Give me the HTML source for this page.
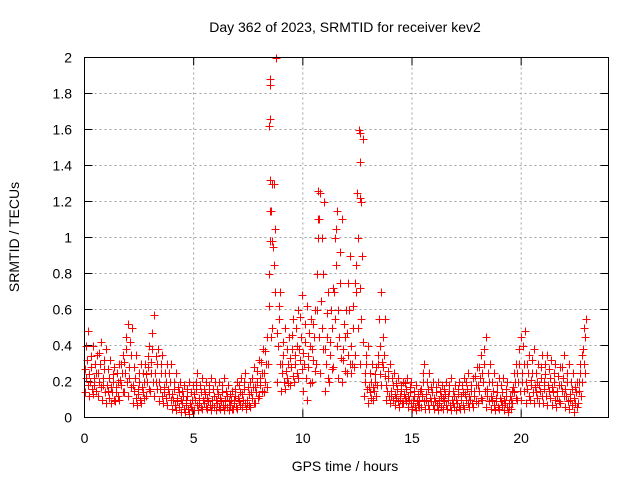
<!DOCTYPE html>
<html><head><meta charset="utf-8"><style>
html,body{margin:0;padding:0;background:#fff;}
svg{display:block;font-family:"Liberation Sans",sans-serif;}
</style></head><body>
<svg id="chart" width="640" height="480" xmlns="http://www.w3.org/2000/svg">
<text x="345" y="32" text-anchor="middle" font-size="14" fill="#000">Day 362 of 2023, SRMTID for receiver kev2</text>
<text x="345" y="471" text-anchor="middle" font-size="14" fill="#000">GPS time / hours</text>
<text x="19" y="237" text-anchor="middle" font-size="14" fill="#000" transform="rotate(-90 19 237)">SRMTID / TECUs</text>
<g id="grid"></g>
<g id="ticks"></g>
<g id="marks"></g>
<rect x="84.5" y="57.5" width="524" height="360" fill="none" stroke="#000" stroke-width="1"/>
</svg>
<script>
const xTicks = [0, 5, 10, 15, 20];
const yTicks = [0, 0.2, 0.4, 0.6, 0.8, 1, 1.2, 1.4, 1.6, 1.8, 2];
const yTickLabels = ["0","0.2","0.4","0.6","0.8","1","1.2","1.4","1.6","1.8","2"];
const binHours = 0.2;
const lo = [0.14,0.12,0.13,0.12,0.1, 0.08,0.08,0.09,0.1,0.14, 0.12,0.08,0.07,0.08,0.12, 0.15,0.12,0.09,0.08,0.07,
 0.05,0.04,0.03,0.03,0.02, 0.04,0.04,0.05,0.05,0.04, 0.04,0.05,0.04,0.04,0.05, 0.05,0.06,0.05,0.06,0.08,
 0.12,0.14,0.3,0.5,0.2, 0.15,0.16,0.18,0.2,0.22, 0.15,0.1,0.2,0.3,0.25, 0.15,0.2,0.28,0.22,0.2,
 0.25,0.25,0.35,0.3,0.12, 0.08,0.1,0.18,0.18,0.1, 0.08,0.07,0.06,0.08,0.06, 0.05,0.04,0.06,0.05,0.05,
 0.05,0.04,0.05,0.05,0.04, 0.04,0.05,0.05,0.06,0.06, 0.08,0.1,0.06,0.05,0.04, 0.05,0.04,0.03,0.08,0.1,
 0.1,0.08,0.1,0.08,0.08, 0.08,0.07,0.07,0.06,0.08, 0.06,0.05,0.03,0.08,0.2];
const q1 = [0.18,0.16,0.15,0.17,0.14, 0.11,0.1,0.12,0.14,0.2, 0.17,0.11,0.1,0.11,0.16, 0.2,0.16,0.12,0.11,0.1,
 0.07,0.06,0.05,0.05,0.04, 0.07,0.06,0.06,0.07,0.06, 0.06,0.07,0.06,0.05,0.06, 0.07,0.08,0.07,0.08,0.11,
 0.15,0.17,0.45,0.7,0.3, 0.2,0.19,0.23,0.25,0.27, 0.22,0.19,0.26,0.45,0.38, 0.22,0.27,0.4,0.33,0.26,
 0.3,0.28,0.5,0.42,0.16, 0.11,0.12,0.24,0.23,0.12, 0.1,0.09,0.08,0.09,0.08, 0.06,0.06,0.09,0.07,0.07,
 0.07,0.06,0.07,0.07,0.06, 0.06,0.07,0.08,0.08,0.09, 0.11,0.15,0.09,0.07,0.06, 0.07,0.06,0.05,0.11,0.15,
 0.15,0.12,0.14,0.11,0.12, 0.12,0.11,0.1,0.09,0.12, 0.09,0.07,0.06,0.12,0.25];
const midA = [0.22,0.2,0.18,0.2,0.18, 0.15,0.14,0.14,0.18,0.25, 0.22,0.15,0.13,0.14,0.2, 0.25,0.2,0.16,0.14,0.13,
 0.1,0.09,0.08,0.07,0.06, 0.1,0.08,0.08,0.09,0.07, 0.08,0.09,0.07,0.07,0.08, 0.09,0.1,0.08,0.11,0.14,
 0.18,0.2,0.62,0.85,0.4, 0.25,0.22,0.28,0.3,0.32, 0.3,0.28,0.32,0.6,0.5, 0.3,0.35,0.55,0.45,0.32,
 0.35,0.3,0.7,0.55,0.2, 0.14,0.15,0.3,0.28,0.15, 0.12,0.11,0.1,0.11,0.1, 0.08,0.07,0.12,0.1,0.09,
 0.09,0.08,0.09,0.1,0.08, 0.08,0.1,0.1,0.1,0.12, 0.15,0.2,0.12,0.1,0.09, 0.09,0.08,0.06,0.14,0.2,
 0.2,0.16,0.18,0.14,0.15, 0.16,0.15,0.14,0.12,0.15, 0.12,0.1,0.08,0.15,0.3];
const q2 = [0.27,0.24,0.22,0.25,0.22, 0.18,0.17,0.17,0.21,0.31, 0.28,0.18,0.16,0.17,0.24, 0.31,0.25,0.2,0.17,0.16,
 0.13,0.11,0.1,0.1,0.08, 0.13,0.11,0.1,0.11,0.1, 0.1,0.11,0.1,0.09,0.1, 0.11,0.13,0.1,0.14,0.17,
 0.22,0.25,0.8,0.95,0.47, 0.3,0.26,0.33,0.35,0.38, 0.36,0.34,0.38,0.8,0.65, 0.38,0.42,0.7,0.6,0.38,
 0.47,0.4,0.85,0.72,0.25, 0.17,0.17,0.35,0.31,0.18, 0.15,0.13,0.12,0.13,0.12, 0.1,0.09,0.16,0.13,0.11,
 0.11,0.1,0.11,0.12,0.1, 0.1,0.12,0.13,0.12,0.15, 0.18,0.25,0.16,0.12,0.11, 0.11,0.1,0.08,0.17,0.25,
 0.25,0.2,0.21,0.17,0.18, 0.2,0.18,0.17,0.15,0.18, 0.16,0.13,0.11,0.2,0.38];
const midB = [0.32,0.28,0.25,0.3,0.27, 0.22,0.2,0.2,0.25,0.38, 0.35,0.22,0.2,0.2,0.28, 0.38,0.3,0.25,0.2,0.2,
 0.16,0.14,0.12,0.12,0.1, 0.16,0.14,0.13,0.14,0.12, 0.13,0.14,0.12,0.1,0.12, 0.14,0.16,0.13,0.17,0.2,
 0.25,0.3,0.98,1.05,0.55, 0.35,0.3,0.38,0.4,0.45, 0.42,0.4,0.45,1.0,0.8, 0.45,0.5,0.85,0.75,0.45,
 0.6,0.5,1.0,0.9,0.3, 0.2,0.2,0.4,0.35,0.22, 0.18,0.16,0.15,0.16,0.14, 0.12,0.1,0.2,0.16,0.14,
 0.14,0.12,0.13,0.15,0.12, 0.13,0.14,0.16,0.15,0.18, 0.22,0.3,0.2,0.15,0.14, 0.14,0.12,0.1,0.2,0.3,
 0.3,0.25,0.25,0.2,0.22, 0.24,0.22,0.2,0.18,0.22, 0.2,0.16,0.14,0.25,0.45];
const q3 = [0.4,0.34,0.3,0.36,0.32, 0.27,0.24,0.25,0.3,0.45, 0.42,0.28,0.25,0.25,0.34, 0.47,0.34,0.3,0.25,0.25,
 0.2,0.17,0.15,0.16,0.14, 0.2,0.18,0.16,0.18,0.16, 0.16,0.18,0.15,0.13,0.16, 0.18,0.2,0.17,0.22,0.26,
 0.31,0.37,1.15,1.3,0.62, 0.42,0.38,0.46,0.5,0.56, 0.52,0.47,0.52,1.1,1.0, 0.58,0.6,1.0,0.92,0.52,
 0.75,0.62,1.25,1.2,0.35, 0.25,0.24,0.55,0.45,0.26, 0.22,0.19,0.18,0.19,0.17, 0.15,0.13,0.25,0.2,0.17,
 0.17,0.15,0.16,0.18,0.15, 0.16,0.18,0.2,0.18,0.23, 0.28,0.38,0.25,0.2,0.18, 0.18,0.16,0.12,0.25,0.38,
 0.4,0.3,0.32,0.25,0.28, 0.3,0.27,0.25,0.23,0.28, 0.25,0.2,0.17,0.3,0.5];
const hi = [0.48,0.4,0.35,0.42,0.38, 0.32,0.28,0.3,0.35,0.52, 0.5,0.35,0.3,0.3,0.4, 0.57,0.38,0.35,0.3,0.3,
 0.25,0.2,0.18,0.2,0.18, 0.25,0.22,0.2,0.22,0.2, 0.2,0.22,0.18,0.15,0.2, 0.22,0.25,0.2,0.28,0.32,
 0.38,0.45,1.3,2.0,0.7, 0.5,0.45,0.55,0.6,0.68, 0.62,0.55,0.6,1.25,1.2, 0.7,0.72,1.15,1.1,0.6,
 0.9,0.75,1.6,1.55,0.4, 0.3,0.28,0.7,0.55,0.3, 0.25,0.22,0.2,0.22,0.2, 0.18,0.15,0.3,0.25,0.2,
 0.2,0.18,0.2,0.22,0.18, 0.2,0.22,0.25,0.22,0.28, 0.35,0.45,0.3,0.25,0.22, 0.22,0.2,0.15,0.3,0.45,
 0.48,0.35,0.38,0.3,0.35, 0.35,0.32,0.3,0.28,0.35, 0.3,0.25,0.2,0.35,0.55];
const spikeHours = [8.5, 8.5, 8.5, 8.45, 8.5, 8.55, 8.6, 10.7, 10.75, 12.6, 12.6, 12.6, 11.5];
const spikeValues = [1.88, 1.85, 1.66, 1.62, 1.32, 1.15, 0.98, 1.26, 1.1, 1.58, 1.42, 1.22, 1.05];

const NS = "http://www.w3.org/2000/svg";
const X0 = 84.5, XW = 524, Y0 = 417.5, YH = 360;
function xs(h){ return X0 + h / 24 * XW; }
function ys(v){ return Y0 - v / 2 * YH; }
function mk(tag, attrs, parent){ const e = document.createElementNS(NS, tag); for (const k in attrs) e.setAttribute(k, attrs[k]); parent.appendChild(e); return e; }

const grid = document.getElementById('grid');
const ticks = document.getElementById('ticks');
yTicks.forEach((v, i) => {
  const y = ys(v);
  if (v > 0 && v < 2) {
    const g = mk('line', {x1: X0, x2: X0 + XW, y1: y, y2: y, stroke: '#a0a0a0', 'stroke-dasharray': '2,3'}, grid);
    
    
  }
  const t1 = mk('line', {x1: X0, x2: X0 + 8, y1: y, y2: y, stroke: '#000'}, ticks);
  
  
  const t2 = mk('line', {x1: X0 + XW - 8, x2: X0 + XW, y1: y, y2: y, stroke: '#000'}, ticks);
  
  
  const lb = mk('text', {x: 72, y: y + 5, 'text-anchor': 'end', 'font-size': 14, fill: '#000'}, ticks);
  lb.textContent = yTickLabels[i];
  
  
});
xTicks.forEach(h => {
  const x = xs(h);
  if (h > 0) {
    const g = mk('line', {x1: x, x2: x, y1: 57.5, y2: Y0, stroke: '#a0a0a0', 'stroke-dasharray': '2,3'}, grid);
    
    
  }
  const t1 = mk('line', {x1: x, x2: x, y1: Y0, y2: Y0 - 8, stroke: '#000'}, ticks);
  
  
  const t2 = mk('line', {x1: x, x2: x, y1: 57.5, y2: 65.5, stroke: '#000'}, ticks);
  
  
  const lb = mk('text', {x: x, y: 443, 'text-anchor': 'middle', 'font-size': 14, fill: '#000'}, ticks);
  lb.textContent = String(h);
  
  
});

const marks = document.getElementById('marks');
function plus(h, v){
  const x = Math.round(xs(h)) + 0.5, y = Math.round(ys(v)) + 0.5;
  const p = mk('path', {d: `M${x-4},${y}H${x+4}M${x},${y-4}V${y+4}`, stroke: '#ff0000', 'stroke-width': 1, fill: 'none'}, marks);
  
  
}
const seriesList = [lo, q2, midA, q3, midB, q1, hi];
for (let i = 0; i < lo.length; i++) {
  seriesList.forEach((s, k) => { plus(i * binHours + k * binHours / seriesList.length, s[i]); });
}
spikeHours.forEach((h, i) => plus(h, spikeValues[i]));
</script>
</body></html>
